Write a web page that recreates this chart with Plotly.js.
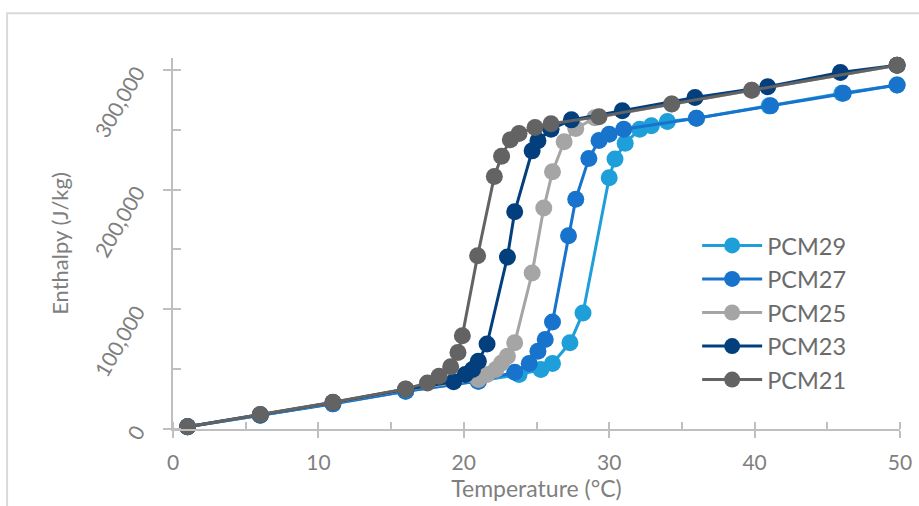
<!DOCTYPE html>
<html>
<head>
<meta charset="utf-8">
<script src="https://cdn.plot.ly/plotly-3.0.1.min.js"></script>
<style>
  html, body { margin: 0; padding: 0; background: #ffffff; }
  #chart { width: 919px; height: 506px; }
</style>
</head>
<body>
<div id="chart"></div>
<script>
// Enthalpy–temperature curves of five phase change materials
const seriesNames = ["PCM29", "PCM27", "PCM25", "PCM23", "PCM21"];
const seriesColors = ["#1E9FDA", "#1873CC", "#A5A5A5", "#033F7C", "#636363"];

const tempPCM29 = [1, 6, 11, 16, 21, 23.8, 25.3, 26.1, 27.3, 28.2, 30.0, 30.4, 31.1, 32.1, 32.9, 34.0, 36.0, 41.0, 46.0, 49.8];
const enthPCM29 = [1800, 11500, 21000, 31500, 40000, 45500, 49700, 54700, 72000, 97000, 210000, 225700, 238800, 250500, 253300, 256900, 259700, 270000, 280600, 287500];

const tempPCM27 = [1, 6, 11, 16, 21, 23.5, 24.5, 25.1, 25.6, 26.1, 27.2, 27.7, 28.6, 29.3, 30.0, 31.0, 36.0, 41.1, 46.1, 49.8];
const enthPCM27 = [1800, 11500, 21000, 31500, 40000, 47400, 54700, 65000, 74700, 89500, 161500, 192000, 226000, 241000, 246300, 250500, 259700, 270000, 280600, 287500];

const tempPCM25 = [1, 6, 11, 16, 21.0, 21.6, 22.2, 22.6, 23.0, 23.5, 24.7, 25.5, 26.1, 26.9, 27.7, 29.0, 34.3, 39.8, 49.8];
const enthPCM25 = [1800, 12000, 22000, 33000, 41300, 45500, 49700, 55200, 60800, 72000, 130300, 184600, 215000, 240000, 251000, 260000, 271600, 283000, 304000];

const tempPCM23 = [1, 6, 11, 16, 19.3, 20.1, 20.6, 21.0, 21.6, 23.0, 23.5, 24.7, 25.1, 26.0, 27.4, 30.9, 35.9, 40.9, 45.9, 49.8];
const enthPCM23 = [1800, 12000, 22200, 33200, 39500, 45500, 49700, 56600, 71000, 143700, 181500, 232400, 240800, 250500, 258300, 266000, 277000, 286000, 297800, 304000];

const tempPCM21 = [1, 6, 11, 16, 17.5, 18.3, 19.1, 19.6, 19.9, 20.95, 22.1, 22.6, 23.2, 23.8, 24.9, 26.0, 29.3, 34.3, 39.8, 49.8];
const enthPCM21 = [1800, 12100, 22400, 33500, 38500, 44000, 52000, 64000, 78000, 144800, 211000, 228000, 241600, 247000, 252000, 255000, 261000, 271600, 283000, 304000];

const temps = [tempPCM29, tempPCM27, tempPCM25, tempPCM23, tempPCM21];
const enths = [enthPCM29, enthPCM27, enthPCM25, enthPCM23, enthPCM21];

const xTickVals = [0, 10, 20, 30, 40, 50];
const yTickVals = [0, 100000, 200000, 300000];

const axisGrey = "#BFBFBF";
const textGrey = "#7F7F7F";
const fontFamily = "Lato, 'Open Sans', sans-serif";

const traces = seriesNames.map((name, i) => ({
  type: "scatter",
  mode: "lines+markers",
  name: name,
  x: temps[i],
  y: enths[i],
  cliponaxis: false,
  line: { color: seriesColors[i], width: 3 },
  marker: { color: seriesColors[i], size: 17, line: { width: 0 } }
}));

// plot-area geometry in pixels, used to place the outer frame and legend
const W = 919, H = 506;
const mL = 172.5, mR = 19, mT = 58.3, mB = 76.5;
const pw = W - mL - mR, ph = H - mT - mB;
const px2paperX = px => (px - mL) / pw;
const px2paperY = py => (H - mB - py) / ph;

const layout = {
  width: W,
  height: H,
  margin: { l: mL, r: mR, t: mT, b: mB, pad: 0 },
  paper_bgcolor: "#ffffff",
  plot_bgcolor: "#ffffff",
  font: { family: fontFamily, color: textGrey, size: 17 },
  showlegend: true,
  hovermode: false,
  xaxis: {
    range: [0, 50],
    tickvals: xTickVals,
    ticktext: xTickVals.map(String),
    showgrid: false,
    zeroline: false,
    showline: true,
    linecolor: axisGrey,
    linewidth: 2,
    ticks: "outside",
    ticklen: 7,
    tickwidth: 2,
    tickcolor: axisGrey,
    minor: { dtick: 5, tick0: 0, ticks: "inside", ticklen: 7, tickwidth: 2, tickcolor: axisGrey },
    tickfont: { size: 21, color: textGrey },
    ticklabelstandoff: 7,
    title: { text: "Temperature (°C)", font: { size: 23, color: textGrey }, standoff: 6 }
  },
  yaxis: {
    range: [0, 310000],
    tickvals: yTickVals,
    tickformat: ",d",
    tickangle: -60,
    showgrid: false,
    zeroline: false,
    showline: true,
    linecolor: axisGrey,
    linewidth: 2,
    ticks: "outside",
    ticklen: 8,
    tickwidth: 2,
    tickcolor: axisGrey,
    minor: { dtick: 50000, tick0: 0, ticks: "inside", ticklen: 8, tickwidth: 2, tickcolor: axisGrey },
    tickfont: { size: 21, color: textGrey },
    ticklabelstandoff: 22,
    title: { text: "Enthalpy (J/kg)", font: { size: 22, color: textGrey }, standoff: 14 }
  },
  legend: {
    x: px2paperX(697),
    y: px2paperY(224),
    xanchor: "left",
    yanchor: "top",
    bgcolor: "rgba(0,0,0,0)",
    borderwidth: 0,
    itemwidth: 60,
    font: { size: 23.5, color: "#6B6B6B", family: fontFamily }
  },
  shapes: [{
    type: "rect",
    xref: "paper", yref: "paper",
    x0: px2paperX(6.5), x1: px2paperX(960),
    y0: px2paperY(560), y1: px2paperY(13.5),
    line: { color: "#D9D9D9", width: 2 },
    fillcolor: "rgba(0,0,0,0)",
    layer: "below"
  }]
};

Plotly.newPlot("chart", traces, layout, { displayModeBar: false, staticPlot: true });
</script>
</body>
</html>
